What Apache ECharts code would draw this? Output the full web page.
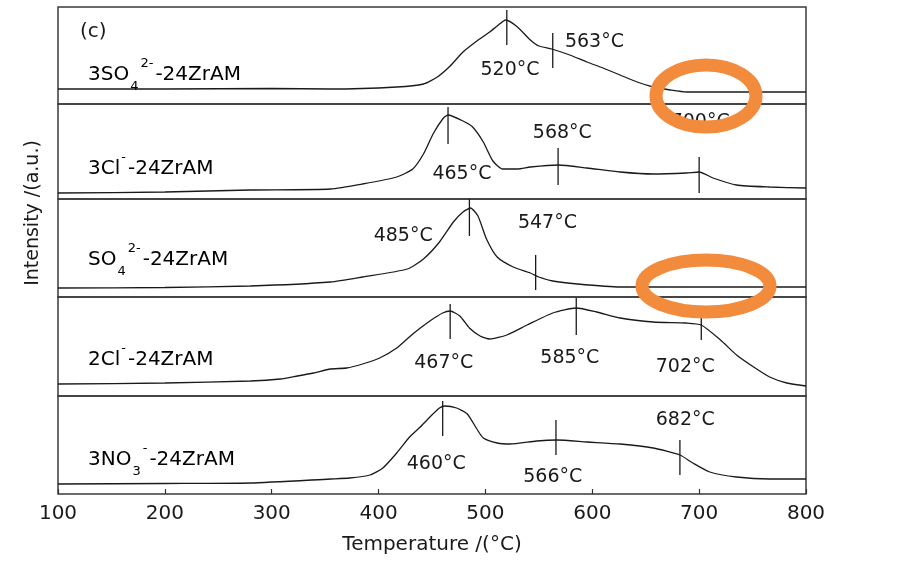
<!DOCTYPE html>
<html>
<head>
<meta charset="utf-8">
<script src="https://cdn.jsdelivr.net/npm/echarts@6/dist/echarts.min.js"></script>
<style>html,body{margin:0;padding:0;background:#fff}#c{width:900px;height:564px}</style>
</head>
<body>
<div id="c"></div>
<script>
// ---------- DATA ----------
const xMin = 100, xMax = 800, xStep = 100;
const xTitle = 'Temperature /(°C)';
const yTitle = 'Intensity /(a.u.)';
const panelTag = '(c)';

// sample names (top to bottom): [main, subscript, superscript, rest]
const sampleNames = [
  ['3SO', '4', '2-', '-24ZrAM'],
  ['3Cl', '', '-', '-24ZrAM'],
  ['SO', '4', '2-', '-24ZrAM'],
  ['2Cl', '', '-', '-24ZrAM'],
  ['3NO', '3', '-', '-24ZrAM']
];

// TPD curves: [temperature, intensity (a.u.)]
const curve3SO4 = [[100,15],[200,15],[300,15.5],[355,15],[417,17],[442,20],[455,27],[467,38],[479,52],[492,63],[504,72],[511,78],[519,84],[530,77],[542,64],[550,58],[562,55],[579,49],[595,42],[610,36],[626,29],[642,22],[657,17],[673,14],[688,12],[720,12],[800,12]];
const curve3Cl = [[100,6],[200,7],[280,9],[355,10],[385,15],[417,22],[432,30],[442,45],[451,65],[460,80],[465,84],[479,78],[488,72],[498,57],[507,38],[516,30],[530,30],[542,32],[568,34],[595,31],[626,27],[657,25],[688,26],[700,27],[713,21],[735,14],[766,12],[800,11]];
const curveSO4 = [[100,9],[200,9.5],[280,11],[355,15],[385,20],[427,28],[442,38],[457,55],[470,75],[479,85],[486,89],[493,81],[501,58],[511,40],[526,30],[542,24],[550,20],[563,16],[586,13],[626,10],[688,10],[800,10]];
const curve2Cl = [[100,12],[200,13],[280,15],[308,17],[324,20],[339,23],[355,27],[370,28],[385,32],[401,38],[417,48],[432,62],[448,75],[460,83],[467,85],[476,80],[485,68],[495,60],[504,57],[520,61],[539,71],[563,83],[585,88],[604,84],[626,78],[657,74],[688,73],[702,71],[720,56],[735,41],[751,29],[766,19],[782,13],[800,10]];
const curve3NO3 = [[100,10],[200,10.5],[280,11],[355,15],[373,16],[392,19],[404,26],[417,41],[429,57],[439,67],[448,77],[457,86],[462,88],[473,86],[483,80],[492,65],[498,56],[511,51],[523,50],[548,53],[567,54],[595,52],[626,50],[657,46],[682,39],[694,31],[710,22],[735,17],[766,15],[800,15]];
const curves = [curve3SO4, curve3Cl, curveSO4, curve2Cl, curve3NO3];

// marked peak temperatures (°C)
const peaks3SO4 = [520, 563];
const peaks3Cl = [465, 568, 700];
const peaksSO4 = [485, 547];
const peaks2Cl = [467, 585, 702];
const peaks3NO3 = [460, 566, 682];
const peaks = [peaks3SO4, peaks3Cl, peaksSO4, peaks2Cl, peaks3NO3];

// ---------- LAYOUT (positions, not data) ----------
const panelTops = [7, 104, 199, 297, 396];
const panelBottoms = [104, 199, 297, 396, 494];
// per peak: [tick top, tick bottom, label x (°C), label y] in the panel's own axis units
const peakLayout = [
  [[94,59,523,34],[71,36,602,62]],
  [[92,55,478,25],[51,14,572,66],[42,6,701,77]],
  [[98,61,423,61],[42,7,558,74]],
  [[92,57,461,33],[98,61,579,38],[78,56,687,29]],
  [[93,58,454,30],[74,39,563,17],[54,19,687,74]]
];
const labelCenters = [75, 169, 260, 360, 460];
const FONT = 'DejaVu Sans';
const INK = '#1a1a1a';

const chart = echarts.init(document.getElementById('c'), null, {renderer: 'canvas'});

const grid = [], xAxis = [], yAxis = [], series = [];
for (let i = 0; i < 5; i++) {
  const h = panelBottoms[i] - panelTops[i];
  grid.push({left: 58, right: 94, top: panelTops[i], height: h, show: true,
    borderColor: '#3a3a3a', borderWidth: 1.5, backgroundColor: 'transparent'});
  const last = i === 4;
  xAxis.push({type: 'value', gridIndex: i, min: xMin, max: xMax, interval: xStep,
    show: last,
    axisLine: {show: false},
    axisTick: {show: last, inside: true, length: 5, lineStyle: {color: '#333', width: 1.2}},
    axisLabel: {show: last, fontFamily: FONT, fontSize: 20, color: INK, margin: 10},
    splitLine: {show: false},
    name: last ? xTitle : '', nameLocation: 'middle', nameGap: 41,
    nameTextStyle: {fontFamily: FONT, fontSize: 20, color: INK}
  });
  yAxis.push({type: 'value', gridIndex: i, min: 0, max: h, show: false, splitLine: {show: false}});
  series.push({type: 'line', xAxisIndex: i, yAxisIndex: i, data: curves[i],
    showSymbol: false, smooth: 0.2, lineStyle: {color: INK, width: 1.3}, silent: true, z: 3});
  const pk = peaks[i], lay = peakLayout[i];
  series.push({type: 'custom', xAxisIndex: i, yAxisIndex: i, clip: false, silent: true, z: 4,
    data: pk.map((t, k) => [t, lay[k][0], lay[k][1], lay[k][2], lay[k][3]]),
    renderItem: function (params, api) {
      const t = api.value(0);
      const a = api.coord([t, api.value(1)]), b = api.coord([t, api.value(2)]);
      const l = api.coord([api.value(3), api.value(4)]);
      return {type: 'group', children: [
        {type: 'line', shape: {x1: a[0], y1: a[1], x2: b[0], y2: b[1]}, style: {stroke: INK, lineWidth: 1.3}},
        {type: 'text', x: l[0], y: l[1], style: {text: pk[params.dataIndex] + '°C', fill: INK,
          font: '19px "' + FONT + '"', align: 'center', verticalAlign: 'middle'}}
      ]};
    }
  });
}

const graphic = [];
sampleNames.forEach((n, i) => {
  const yc = labelCenters[i];
  graphic.push({type: 'text', left: 88, top: yc - 18, z: 10,
    style: {text: '{m|' + n[0] + '}' + (n[1] ? '{sb|' + n[1] + '}' : '') + '{sp|' + n[2] + '}{m|' + n[3] + '}',
      rich: {
        m: {fontFamily: FONT, fontSize: 20, color: INK, lineHeight: 36},
        sb: {fontFamily: FONT, fontSize: 13, color: INK, lineHeight: 12, verticalAlign: 'bottom', padding: [0, 1, 0, 1]},
        sp: {fontFamily: FONT, fontSize: 13, color: INK, lineHeight: 12, verticalAlign: 'top', padding: [0, 2, 0, 1]}
      }}});
});
graphic.push({type: 'text', left: 80, top: 22, z: 10, style: {text: panelTag, font: '20px "' + FONT + '"', fill: INK}});
graphic.push({type: 'text', x: 33, y: 213, rotation: Math.PI / 2, z: 10,
  style: {text: yTitle, font: '19px "' + FONT + '"', fill: INK, align: 'center', verticalAlign: 'middle'}});
// orange hand-drawn highlight ellipses
graphic.push({type: 'ellipse', shape: {cx: 706, cy: 96, rx: 50, ry: 31}, z: 20,
  style: {fill: 'none', stroke: '#F28B3C', lineWidth: 13}});
graphic.push({type: 'ellipse', shape: {cx: 706, cy: 286, rx: 64, ry: 26}, z: 20,
  style: {fill: 'none', stroke: '#F28B3C', lineWidth: 13}});

chart.setOption({backgroundColor: '#fff', animation: false, grid, xAxis, yAxis, series, graphic});
</script>
</body>
</html>
